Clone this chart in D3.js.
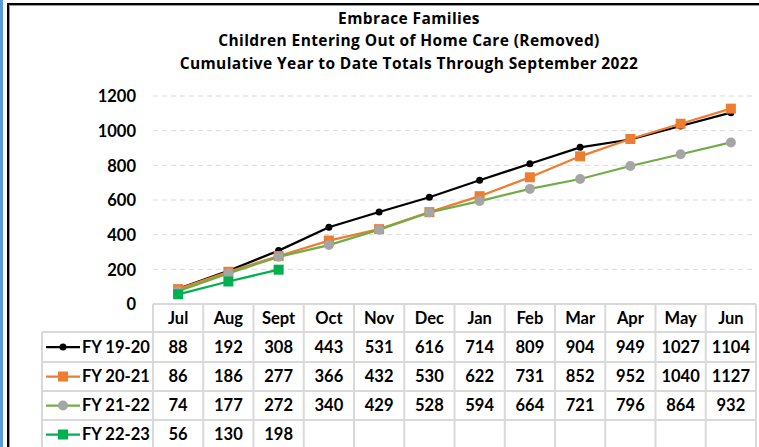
<!DOCTYPE html>
<html><head><meta charset="utf-8">
<script src="https://cdn.jsdelivr.net/npm/d3@7"></script>
<style>
html,body{margin:0;padding:0;background:#fff;}
svg{display:block;}
text{font-family:Lato,"Open Sans",sans-serif;font-weight:700;fill:#000;}
</style></head>
<body>
<svg id="c" width="759" height="447"></svg>
<script>
const months = ["Jul","Aug","Sept","Oct","Nov","Dec","Jan","Feb","Mar","Apr","May","Jun"];
const seriesNames = ["FY 19-20","FY 20-21","FY 21-22","FY 22-23"];
const fy1920 = [88,192,308,443,531,616,714,809,904,949,1027,1104];
const fy2021 = [86,186,277,366,432,530,622,731,852,952,1040,1127];
const fy2122 = [74,177,272,340,429,528,594,664,721,796,864,932];
const fy2223 = [56,130,198];
const yTicks = [0,200,400,600,800,1000,1200];
const titleLines = ["Embrace Families","Children Entering Out of Home Care (Removed)","Cumulative Year to Date Totals Through September 2022"];

const series = [
  {name:seriesNames[0], values:fy1920, line:"#000000", fill:"#000000", shape:"circle", size:3.5},
  {name:seriesNames[1], values:fy2021, line:"#ED7D31", fill:"#ED7D31", shape:"square", size:5},
  {name:seriesNames[2], values:fy2122, line:"#70AD47", fill:"#A5A5A5", shape:"circle", size:5},
  {name:seriesNames[3], values:fy2223, line:"#00B050", fill:"#00B050", shape:"square", size:5}
];

const svg = d3.select("#c");
// outer decoration
svg.append("rect").attr("x",0).attr("y",0).attr("width",3).attr("height",447).attr("fill","#5B9BD5");
svg.append("line").attr("x1",8).attr("x2",8).attr("y1",3).attr("y2",447).attr("stroke","#000").attr("stroke-width",2);
svg.append("line").attr("x1",9.5).attr("x2",9.5).attr("y1",5).attr("y2",447).attr("stroke","#999").attr("stroke-width",1);
svg.append("line").attr("x1",7).attr("x2",759).attr("y1",4).attr("y2",4).attr("stroke","#000").attr("stroke-width",2);
svg.append("line").attr("x1",9).attr("x2",759).attr("y1",5.5).attr("y2",5.5).attr("stroke","#999").attr("stroke-width",1);

// title
svg.append("g").selectAll("text").data(titleLines).join("text")
  .attr("x",409).attr("y",(d,i)=>23.5+i*22.5).attr("text-anchor","middle")
  .style("font-family","'Open Sans',Lato,sans-serif").style("font-size","15.5px")
  .style("letter-spacing","0.4px").text(d=>d);

const x = d3.scaleBand().domain(months).range([153,756]).padding(0);
const y = d3.scaleLinear().domain([0,1200]).range([304,96]);

// gridlines
svg.append("g").selectAll("line").data(yTicks.filter(t=>t>0)).join("line")
  .attr("x1",153).attr("x2",756).attr("y1",d=>y(d)).attr("y2",d=>y(d))
  .attr("stroke","#d9d9d9").attr("stroke-width",1).attr("stroke-dasharray","5,4");

// y axis labels
const yAxis = d3.axisLeft(y).tickValues(yTicks).tickSize(0).tickPadding(0).tickFormat(d3.format("d"));
const ya = svg.append("g").attr("transform","translate(136,0)").call(yAxis);
ya.select(".domain").remove();
ya.selectAll("text").style("font-size","16.5px").style("font-family","Lato").attr("dy","0.35em");

// lines & markers
const line = d3.line().x((d,i)=>x(months[i])+x.bandwidth()/2).y(d=>y(d));
function marker(g, s, cx, cy){
  if(s.shape==="circle"){
    g.append("circle").attr("cx",cx).attr("cy",cy).attr("r",s.size).attr("fill",s.fill);
  } else {
    g.append("rect").attr("x",cx-s.size).attr("y",cy-s.size).attr("width",s.size*2).attr("height",s.size*2).attr("fill",s.fill);
  }
}
series.forEach(s=>{
  const g = svg.append("g");
  g.append("path").datum(s.values).attr("d",line).attr("fill","none").attr("stroke",s.line).attr("stroke-width",2.25);
  s.values.forEach((v,i)=>marker(g,s,x(months[i])+x.bandwidth()/2,y(v)));
});

// data table
const rowEdges = [304,332,362,391,420,449];
const tg = svg.append("g");
const gridC = "#d9d9d9";
tg.append("line").attr("x1",153).attr("x2",756).attr("y1",rowEdges[0]).attr("y2",rowEdges[0]).attr("stroke",gridC).attr("stroke-width",2);
for(let r=1;r<rowEdges.length;r++){
  tg.append("line").attr("x1",42).attr("x2",756).attr("y1",rowEdges[r]).attr("y2",rowEdges[r]).attr("stroke",gridC).attr("stroke-width",2);
}
tg.append("line").attr("x1",42).attr("x2",42).attr("y1",rowEdges[1]).attr("y2",449).attr("stroke",gridC).attr("stroke-width",2);
months.forEach(m=>{
  tg.append("line").attr("x1",x(m)).attr("x2",x(m)).attr("y1",rowEdges[0]).attr("y2",449).attr("stroke",gridC).attr("stroke-width",2);
});
tg.append("line").attr("x1",756).attr("x2",756).attr("y1",rowEdges[0]).attr("y2",449).attr("stroke",gridC).attr("stroke-width",2);

tg.selectAll("text.h").data(months).join("text").attr("class","h")
  .attr("x",d=>x(d)+x.bandwidth()/2).attr("y",(rowEdges[0]+rowEdges[1])/2).attr("dy","0.36em")
  .attr("text-anchor","middle").style("font-size","16.5px").text(d=>d);

series.forEach((s,r)=>{
  const cy = (rowEdges[r+1]+rowEdges[r+2])/2;
  const lg = tg.append("g");
  lg.append("line").attr("x1",46).attr("x2",80).attr("y1",cy).attr("y2",cy).attr("stroke",s.line).attr("stroke-width",2.25);
  marker(lg,s,63,cy);
  tg.append("text").attr("x",82).attr("y",cy).attr("dy","0.36em").style("font-size","16.5px").text(s.name);
  s.values.forEach((v,i)=>{
    tg.append("text").attr("x",x(months[i])+x.bandwidth()/2).attr("y",cy).attr("dy","0.36em")
      .attr("text-anchor","middle").style("font-size","16.5px").text(v);
  });
});
</script>
</body></html>
